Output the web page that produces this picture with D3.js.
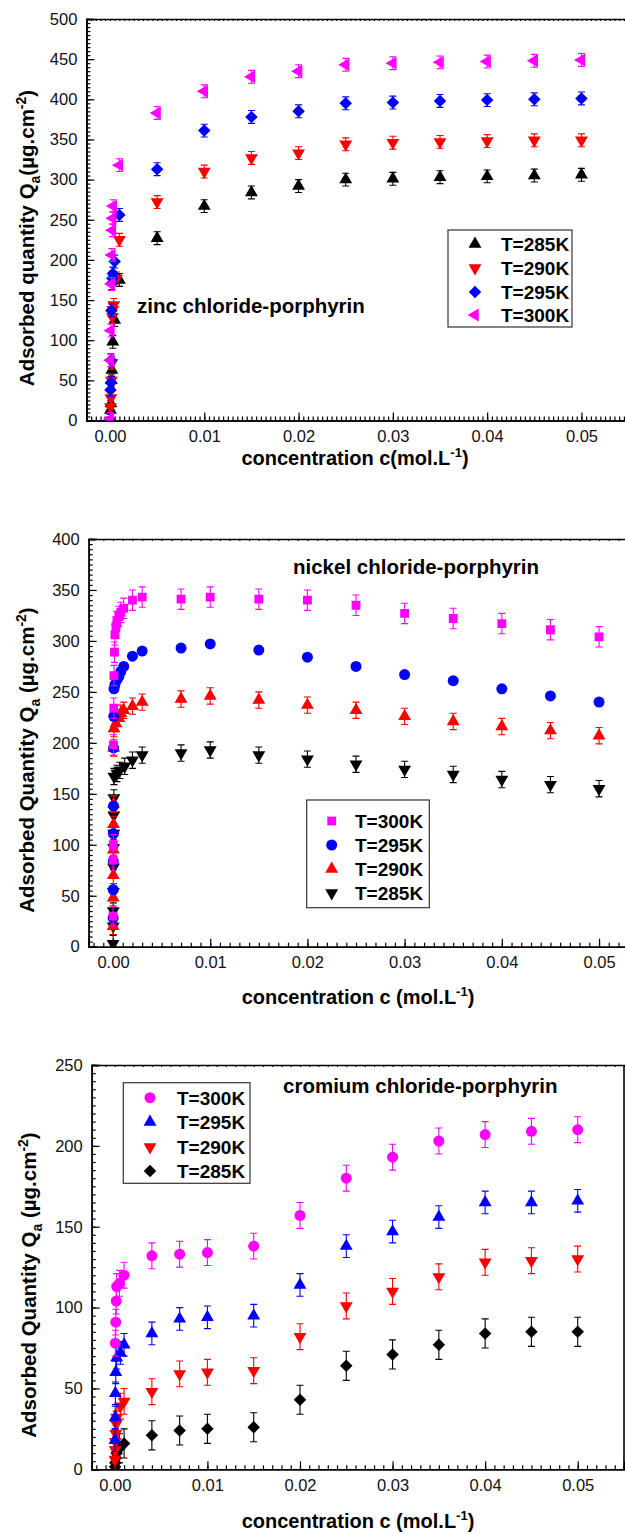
<!DOCTYPE html>
<html>
<head>
<meta charset="utf-8">
<script src="https://cdn.jsdelivr.net/npm/d3@7"></script>
<style>
  body { margin: 0; background: #fff; }
  svg { display: block; }
  text { font-family: Arial, "Liberation Sans", sans-serif; }
</style>
</head>
<body>
<svg id="chart"></svg>
<script>
// legend / series labels
let temps = ["T=285K", "T=290K", "T=295K", "T=300K"];
let xTicks = [0, 0.01, 0.02, 0.03, 0.04, 0.05];
let xTickLabels = ["0.00", "0.01", "0.02", "0.03", "0.04", "0.05"];

// ---- zinc chloride-porphyrin ----
let zincC285 = [0.00005, 0.0001, 0.00015, 0.0002, 0.0003, 0.0005, 0.001, 0.005, 0.01, 0.015, 0.02, 0.025, 0.03, 0.035, 0.04, 0.045, 0.05];
let zincQ285 = [13, 21, 50, 63, 98, 125, 175, 227, 267, 284, 292, 300, 301, 303, 304, 305, 306];
let zincC290 = [0.00002, 0.00005, 0.0001, 0.00015, 0.0002, 0.00025, 0.0003, 0.0004, 0.0007, 0.001, 0.005, 0.01, 0.015, 0.02, 0.025, 0.03, 0.035, 0.04, 0.045, 0.05];
let zincQ290 = [0, 17, 28, 50, 72, 129, 138, 144, 177, 225, 272, 310, 327, 333, 344, 346, 347, 348, 349, 349];
let zincC295 = [0.00002, 0.00005, 0.0001, 0.00012, 0.00015, 0.0002, 0.00025, 0.0003, 0.0005, 0.001, 0.005, 0.01, 0.015, 0.02, 0.025, 0.03, 0.035, 0.04, 0.045, 0.05];
let zincQ295 = [0, 38, 47, 75, 137, 171, 177, 183, 198, 256, 313, 361, 378, 385, 395, 396, 398, 399, 400, 401];
let zincC300 = [0.00002, 0.00005, 0.0001, 0.00015, 0.0002, 0.00025, 0.0003, 0.00035, 0.001, 0.005, 0.01, 0.015, 0.02, 0.025, 0.03, 0.035, 0.04, 0.045, 0.05];
let zincQ300 = [2, 75, 112, 170, 206, 237, 252, 267, 318, 383, 410, 428, 435, 443, 445, 446, 447, 448, 449];
let zincErr = [8, 8, 8, 8];

// ---- nickel chloride-porphyrin ----
let nickC300 = [0.00001, 0.00002, 0.00003, 0.00005, 0.00008, 0.0001, 0.00015, 0.0002, 0.0003, 0.0004, 0.0006, 0.0008, 0.0011, 0.002, 0.003, 0.007, 0.01, 0.015, 0.02, 0.025, 0.03, 0.035, 0.04, 0.045, 0.05];
let nickQ300 = [30, 85, 100, 198, 234, 266, 289, 306, 314, 319, 324, 328, 332, 340, 343, 341, 343, 341, 340, 335, 327, 322, 317, 311, 304];
let nickC295 = [0.00001, 0.00002, 0.00003, 0.00004, 0.00005, 0.00006, 0.00008, 0.0001, 0.0002, 0.0004, 0.0006, 0.0008, 0.0011, 0.002, 0.003, 0.007, 0.01, 0.015, 0.02, 0.025, 0.03, 0.035, 0.04, 0.045, 0.05];
let nickQ295 = [28, 56, 84, 111, 138, 195, 226, 253, 257, 262, 265, 270, 275, 285, 290, 293, 297, 291, 284, 275, 267, 261, 253, 246, 240];
let nickC290 = [0.00001, 0.00002, 0.00003, 0.00004, 0.00005, 0.00006, 0.00008, 0.0001, 0.0003, 0.0006, 0.0008, 0.0011, 0.002, 0.003, 0.007, 0.01, 0.015, 0.02, 0.025, 0.03, 0.035, 0.04, 0.045, 0.05];
let nickQ290 = [20, 48, 70, 95, 120, 140, 195, 214, 219, 224, 229, 232, 236, 240, 243, 246, 242, 237, 232, 226, 221, 216, 212, 207];
let nickC285 = [0.00001, 0.00002, 0.00003, 0.00004, 0.00005, 0.00006, 0.00007, 0.00008, 0.00009, 0.0001, 0.0004, 0.0007, 0.0012, 0.002, 0.003, 0.007, 0.01, 0.015, 0.02, 0.025, 0.03, 0.035, 0.04, 0.045, 0.05];
let nickQ285 = [3, 20, 35, 54, 78, 97, 111, 129, 146, 167, 170, 173, 177, 183, 188, 190, 193, 188, 184, 179, 174, 169, 164, 159, 155];
let nickErr = [10, 0, 8, 8];

// ---- cromium chloride-porphyrin ----
let cromC300 = [0.00005, 0.0001, 0.00015, 0.0002, 0.0005, 0.001, 0.004, 0.007, 0.01, 0.015, 0.02, 0.025, 0.03, 0.035, 0.04, 0.045, 0.05];
let cromQ300 = [78, 91, 104, 113, 115, 120, 132, 133, 134, 138, 157, 180, 193, 203, 207, 209, 210];
let cromC295 = [0.00002, 0.00004, 0.00006, 0.0001, 0.0002, 0.0006, 0.001, 0.004, 0.007, 0.01, 0.015, 0.02, 0.025, 0.03, 0.035, 0.04, 0.045, 0.05];
let cromQ295 = [18, 32, 47, 60, 69, 72, 77, 84, 93, 94, 95, 114, 138, 147, 156, 165, 165, 166];
let cromC290 = [0.00002, 0.00004, 0.00006, 0.0001, 0.00015, 0.0002, 0.0006, 0.001, 0.004, 0.007, 0.01, 0.015, 0.02, 0.025, 0.03, 0.035, 0.04, 0.045, 0.05];
let cromQ290 = [6, 12, 17, 22, 28, 32, 39, 42, 48, 59, 60, 61, 82, 101, 110, 119, 128, 129, 130];
let cromC285 = [0.00002, 0.00005, 0.0001, 0.0002, 0.0005, 0.001, 0.004, 0.007, 0.01, 0.015, 0.02, 0.025, 0.03, 0.035, 0.04, 0.045, 0.05];
let cromQ285 = [1.5, 4, 7, 10, 13, 16, 21, 24, 25, 26, 43, 64, 71, 77, 84, 85, 85];
let cromErr = [8, 7, 8, 9];

const width = 625;
const height = 1534;

let svg = d3.select("svg#chart")
  .attr("width", width)
  .attr("height", height);

function makeSymbol(kind) {
  // path + rotation for each marker kind
  switch (kind) {
    case "up":      return { path: d3.symbol(d3.symbolTriangle, 72)(), rot: 0 };
    case "down":    return { path: d3.symbol(d3.symbolTriangle, 72)(), rot: 180 };
    case "left":    return { path: d3.symbol(d3.symbolTriangle, 72)(), rot: -90 };
    case "diamond": return { path: d3.symbol(d3.symbolSquare, 78)(), rot: 45 };
    case "square":  return { path: d3.symbol(d3.symbolSquare, 78)(), rot: 0 };
    case "circle":  return { path: d3.symbol(d3.symbolCircle, 95)(), rot: 0 };
  }
}

function drawPanel(cfg) {
  let x = d3.scaleLinear().domain(cfg.xDomain).range(cfg.xRange);
  let y = d3.scaleLinear().domain(cfg.yDomain).range(cfg.yRange);

  let g = svg.append("g").attr("class", "panel");

  let clipId = "clip" + cfg.id;
  svg.append("clipPath").attr("id", clipId)
    .append("rect")
    .attr("x", cfg.xRange[0]).attr("y", cfg.yRange[1] - 10)
    .attr("width", cfg.xRange[1] - cfg.xRange[0])
    .attr("height", cfg.yRange[0] - cfg.yRange[1] + 10);

  // minor ticks
  let xMinor = d3.range(0, cfg.xDomain[1] + 1e-9, cfg.xMinorStep)
    .concat(d3.range(-cfg.xMinorStep, cfg.xDomain[0] - 1e-9, -cfg.xMinorStep));
  let yMinor = d3.range(cfg.yDomain[0], cfg.yDomain[1] + 1e-9, cfg.yMinorStep);

  let xAxis = d3.axisBottom(x).tickValues(xTicks).tickFormat((d, i) => xTickLabels[i])
    .tickSize(-8).tickPadding(10);
  let yAxis = d3.axisLeft(y).ticks(cfg.yDomain[1] / cfg.yStep).tickSize(-8).tickPadding(9);

  let xMinorAxis = d3.axisBottom(x).tickValues(xMinor).tickSize(-4).tickFormat("");
  let yMinorAxis = d3.axisLeft(y).tickValues(yMinor).tickSize(-4).tickFormat("");
  let topAxis = d3.axisTop(x).tickValues(xMinor).tickSize(-2).tickFormat("");

  let gx = g.append("g").attr("transform", "translate(0," + cfg.yRange[0] + ")").call(xAxis);
  g.append("g").attr("transform", "translate(0," + cfg.yRange[0] + ")").call(xMinorAxis);
  let gy = g.append("g").attr("transform", "translate(" + cfg.xRange[0] + ",0)").call(yAxis);
  g.append("g").attr("transform", "translate(" + cfg.xRange[0] + ",0)").call(yMinorAxis);
  g.append("g").attr("transform", "translate(0," + cfg.yRange[1] + ")").call(topAxis);

  // the axis sets its own font on the group; replace it
  [gx, gy].forEach(function(a) {
    a.attr("font-size", 16.5).attr("font-family", "Arial, 'Liberation Sans', sans-serif");
    a.selectAll("text").style("font-size", "16.5px").attr("fill", "#111");
  });

  g.selectAll(".domain").attr("stroke", "#000").attr("stroke-width", 1.6);
  g.selectAll(".tick line").attr("stroke", "#000").attr("stroke-width", 1.2);

  if (cfg.rightBorder) {
    g.append("line")
      .attr("x1", cfg.xRange[1]).attr("x2", cfg.xRange[1])
      .attr("y1", cfg.yRange[0]).attr("y2", cfg.yRange[1])
      .attr("stroke", "#000").attr("stroke-width", 1.6);
  }

  // axis titles
  let yt = g.append("text")
    .attr("transform", "translate(" + cfg.yTitlePos[0] + "," + cfg.yTitlePos[1] + ") rotate(-90)")
    .attr("text-anchor", "middle")
    .style("font-size", "20.5px").style("font-weight", "bold");
  yt.append("tspan").text(cfg.yTitle[0]);
  yt.append("tspan").attr("dy", 6).style("font-size", "14px").text("a");
  yt.append("tspan").attr("dy", -6).text(cfg.yTitle[1]);
  yt.append("tspan").attr("dy", -8).style("font-size", "14px").text("-2");
  yt.append("tspan").attr("dy", 8).text(")");

  let xt = g.append("text")
    .attr("x", cfg.xTitlePos[0]).attr("y", cfg.xTitlePos[1])
    .attr("text-anchor", "middle")
    .style("font-size", "20px").style("font-weight", "bold");
  xt.append("tspan").text(cfg.xTitle);
  xt.append("tspan").attr("dy", -8).style("font-size", "13px").text("-1");
  xt.append("tspan").attr("dy", 8).text(")");

  // panel title
  g.append("text")
    .attr("x", cfg.titlePos[0]).attr("y", cfg.titlePos[1])
    .style("font-size", "20.5px").style("font-weight", "bold")
    .text(cfg.title);

  // series
  let plot = g.append("g").attr("clip-path", "url(#" + clipId + ")");
  cfg.series.forEach(function(s) {
    let pts = s.c.map((c, i) => ({ c: c, q: s.q[i] }));
    let sym = makeSymbol(s.shape);
    let sg = plot.append("g");

    if (s.err > 0) {
      let eb = sg.selectAll("g.err").data(pts).enter().append("g").attr("class", "err")
        .attr("stroke", s.color).attr("stroke-width", 1.1);
      eb.append("line")
        .attr("x1", d => x(d.c)).attr("x2", d => x(d.c))
        .attr("y1", d => y(d.q - s.err)).attr("y2", d => y(d.q + s.err));
      eb.append("line")
        .attr("x1", d => x(d.c) - 3.5).attr("x2", d => x(d.c) + 3.5)
        .attr("y1", d => y(d.q + s.err)).attr("y2", d => y(d.q + s.err));
      eb.append("line")
        .attr("x1", d => x(d.c) - 3.5).attr("x2", d => x(d.c) + 3.5)
        .attr("y1", d => y(d.q - s.err)).attr("y2", d => y(d.q - s.err));
    }

    sg.selectAll("path.pt").data(pts).enter().append("path")
      .attr("class", "pt")
      .attr("d", sym.path)
      .attr("fill", s.color)
      .attr("transform", d => "translate(" + x(d.c) + "," + y(d.q) + ") rotate(" + sym.rot + ")");
  });

  // legend
  let L = cfg.legend;
  g.append("rect")
    .attr("x", L.box[0]).attr("y", L.box[1])
    .attr("width", L.box[2] - L.box[0]).attr("height", L.box[3] - L.box[1])
    .attr("fill", "#fff").attr("stroke", "#333").attr("stroke-width", 1.2);
  L.order.forEach(function(si, k) {
    let s = cfg.series[si];
    let sym = makeSymbol(s.shape);
    let cy = L.rows[k];
    g.append("path")
      .attr("d", sym.path)
      .attr("fill", s.color)
      .attr("transform", "translate(" + L.markerX + "," + cy + ") rotate(" + sym.rot + ")");
    g.append("text")
      .attr("x", L.textX).attr("y", cy + 7)
      .style("font-size", "19px").style("font-weight", "bold")
      .text(temps[s.t]);
  });
}

drawPanel({
  id: 1,
  xDomain: [-0.0025, 0.055], xRange: [86.4, 628.6],
  yDomain: [0, 500], yRange: [420.5, 19],
  yStep: 50, xMinorStep: 0.0005, yMinorStep: 5,
  rightBorder: false,
  yTitle: ["Adsorbed quantity Q", "(\u00b5g.cm"], yTitlePos: [34, 238],
  xTitle: "concentration c(mol.L", xTitlePos: [355, 464.5],
  title: "zinc chloride-porphyrin", titlePos: [137, 313],
  series: [
    { t: 0, c: zincC285, q: zincQ285, err: zincErr[0], color: "#000000", shape: "up" },
    { t: 1, c: zincC290, q: zincQ290, err: zincErr[1], color: "#ff0000", shape: "down" },
    { t: 2, c: zincC295, q: zincQ295, err: zincErr[2], color: "#0000ff", shape: "diamond" },
    { t: 3, c: zincC300, q: zincQ300, err: zincErr[3], color: "#ff00ff", shape: "left" }
  ],
  legend: { box: [448, 230, 572, 327], markerX: 475, textX: 501, rows: [244, 268, 292, 315], order: [0, 1, 2, 3] }
});

drawPanel({
  id: 2,
  xDomain: [-0.0025, 0.053], xRange: [88.7, 628.2],
  yDomain: [0, 400], yRange: [946.7, 539],
  yStep: 50, xMinorStep: 0.001, yMinorStep: 5,
  rightBorder: false,
  yTitle: ["Adsorbed Quantity Q", " (\u00b5g.cm"], yTitlePos: [34, 760],
  xTitle: "concentration c (mol.L", xTitlePos: [358, 1004],
  title: "nickel chloride-porphyrin", titlePos: [293, 574],
  series: [
    { t: 0, c: nickC285, q: nickQ285, err: nickErr[3], color: "#000000", shape: "down" },
    { t: 1, c: nickC290, q: nickQ290, err: nickErr[2], color: "#ff0000", shape: "up" },
    { t: 2, c: nickC295, q: nickQ295, err: nickErr[1], color: "#0000ff", shape: "circle" },
    { t: 3, c: nickC300, q: nickQ300, err: nickErr[0], color: "#ff00ff", shape: "square" }
  ],
  legend: { box: [306.7, 800, 429.3, 907.7], markerX: 331.7, textX: 355, rows: [821, 845, 869, 893], order: [3, 2, 1, 0] }
});

drawPanel({
  id: 3,
  xDomain: [-0.0025, 0.055], xRange: [91.7, 624],
  yDomain: [0, 250], yRange: [1469.3, 1065],
  yStep: 50, xMinorStep: 0.001, yMinorStep: 5,
  rightBorder: true,
  yTitle: ["Adsorbed Quantity Q", " (\u00b5g.cm"], yTitlePos: [36, 1285],
  xTitle: "concentration c (mol.L", xTitlePos: [358, 1528],
  title: "cromium chloride-porphyrin", titlePos: [283, 1093],
  series: [
    { t: 0, c: cromC285, q: cromQ285, err: cromErr[3], color: "#000000", shape: "diamond" },
    { t: 1, c: cromC290, q: cromQ290, err: cromErr[2], color: "#ff0000", shape: "down" },
    { t: 2, c: cromC295, q: cromQ295, err: cromErr[1], color: "#0000ff", shape: "up" },
    { t: 3, c: cromC300, q: cromQ300, err: cromErr[0], color: "#ff00ff", shape: "circle" }
  ],
  legend: { box: [123.3, 1082.7, 250, 1183.3], markerX: 150, textX: 177, rows: [1097.7, 1122, 1147, 1171], order: [3, 2, 1, 0] }
});
</script>
</body>
</html>
